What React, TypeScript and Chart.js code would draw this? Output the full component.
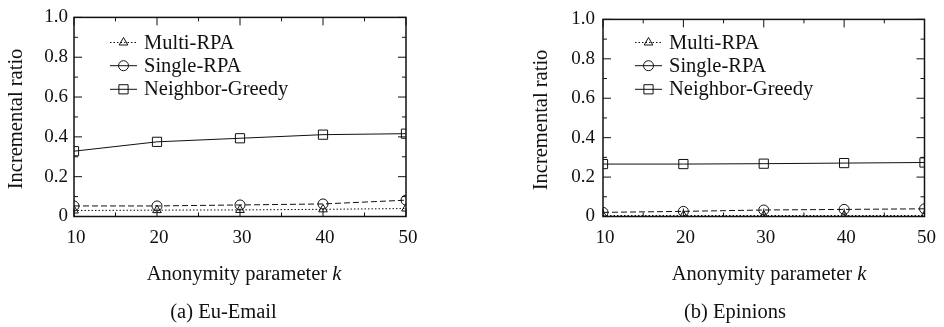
import React, { useEffect, useRef } from 'react';
import { Chart, registerables } from 'chart.js';

Chart.register(...registerables);

// ---- data ----
const kValues = [10, 20, 30, 40, 50];
const seriesNames = ['Multi-RPA', 'Single-RPA', 'Neighbor-Greedy'];
const euMulti = [0.03, 0.032, 0.033, 0.036, 0.04];
const euSingle = [0.053, 0.053, 0.058, 0.063, 0.082];
const euGreedy = [0.328, 0.375, 0.393, 0.411, 0.416];
const epMulti = [0.005, 0.005, 0.005, 0.005, 0.005];
const epSingle = [0.021, 0.026, 0.033, 0.036, 0.039];
const epGreedy = [0.266, 0.266, 0.268, 0.271, 0.274];
const yMinorTicks = [0.1, 0.3, 0.5, 0.7, 0.9];
const xMinorTicks = [15, 25, 35, 45];
const yAxisTitle = 'Incremental ratio';
const xAxisTitle = 'Anonymity parameter ';
const xAxisVar = 'k';
const captions = ['(a) Eu-Email', '(b) Epinions'];

const SERIF = '"Liberation Serif", "Times New Roman", serif';
const INK = '#111';

const seriesStyles = [
  { dash: [1.5, 2], point: 'triangle', radius: 5 },
  { dash: [6, 3], point: 'circle', radius: 5 },
  { dash: [], point: 'rect', radius: 6.5 },
];

function drawMarker(ctx: CanvasRenderingContext2D, style: string, x: number, y: number, r: number) {
  ctx.beginPath();
  if (style === 'circle') {
    ctx.arc(x, y, r, 0, Math.PI * 2);
  } else if (style === 'rect') {
    const s = r * Math.SQRT1_2;
    ctx.rect(x - s, y - s, 2 * s, 2 * s);
  } else {
    let rad = 0;
    ctx.moveTo(x + Math.sin(rad) * r, y - Math.cos(rad) * r);
    rad += (2 * Math.PI) / 3;
    ctx.lineTo(x + Math.sin(rad) * r, y - Math.cos(rad) * r);
    rad += (2 * Math.PI) / 3;
    ctx.lineTo(x + Math.sin(rad) * r, y - Math.cos(rad) * r);
    ctx.closePath();
  }
  ctx.stroke();
}

const decorPlugin = {
  id: 'decor',
  afterDatasetsDraw(chart: any, _args: any, o: any) {
    const ctx: CanvasRenderingContext2D = chart.ctx;
    const { left, right, top, bottom } = chart.chartArea;
    const xs = chart.scales.x;
    const ys = chart.scales.y;
    ctx.save();
    ctx.strokeStyle = INK;
    ctx.fillStyle = INK;
    ctx.setLineDash([]);
    // frame
    ctx.lineWidth = 1.5;
    ctx.strokeRect(left, top, right - left, bottom - top);
    // inward ticks on all four sides
    ctx.lineWidth = 1;
    const xTick = (v: number, len: number) => {
      const px = xs.getPixelForValue(v);
      ctx.beginPath();
      ctx.moveTo(px, bottom);
      ctx.lineTo(px, bottom - len);
      ctx.moveTo(px, top);
      ctx.lineTo(px, top + len);
      ctx.stroke();
    };
    const yTick = (v: number, len: number) => {
      const py = ys.getPixelForValue(v);
      ctx.beginPath();
      ctx.moveTo(left, py);
      ctx.lineTo(left + len, py);
      ctx.moveTo(right, py);
      ctx.lineTo(right - len, py);
      ctx.stroke();
    };
    xs.ticks.forEach((t: any) => xTick(t.value, 8));
    xMinorTicks.forEach((v) => xTick(v, 4));
    ys.ticks.forEach((t: any) => yTick(t.value, 8));
    yMinorTicks.forEach((v) => yTick(v, 4));

    // legend
    ctx.font = `20.5px ${SERIF}`;
    ctx.textBaseline = 'alphabetic';
    ctx.textAlign = 'left';
    chart.data.datasets.forEach((ds: any, i: number) => {
      const st = seriesStyles[i];
      const cy = o.legendRows[i];
      ctx.lineWidth = 1;
      ctx.setLineDash(i === 0 ? [1.5, 2] : []);
      ctx.beginPath();
      ctx.moveTo(o.legendX, cy);
      ctx.lineTo(o.legendX + 27, cy);
      ctx.stroke();
      ctx.setLineDash([]);
      drawMarker(ctx, st.point, o.legendX + 13.5, cy, st.radius);
      ctx.fillText(ds.label, o.legendX + 34, cy + 6);
    });

    // y axis title
    ctx.save();
    ctx.translate(o.yTitleX, (top + bottom) / 2 + 2);
    ctx.rotate(-Math.PI / 2);
    ctx.textAlign = 'center';
    ctx.textBaseline = 'middle';
    ctx.fillText(yAxisTitle, 0, 0);
    ctx.restore();

    // x axis title with italic k
    ctx.font = `20.5px ${SERIF}`;
    const w1 = ctx.measureText(xAxisTitle).width;
    ctx.font = `italic 20.5px ${SERIF}`;
    const w2 = ctx.measureText(xAxisVar).width;
    const sx = o.xTitleCenter - (w1 + w2) / 2;
    ctx.textAlign = 'left';
    ctx.textBaseline = 'alphabetic';
    ctx.font = `20.5px ${SERIF}`;
    ctx.fillText(xAxisTitle, sx, 279.5);
    ctx.font = `italic 20.5px ${SERIF}`;
    ctx.fillText(xAxisVar, sx + w1, 279.5);

    // caption
    ctx.font = `20.5px ${SERIF}`;
    ctx.textAlign = 'center';
    ctx.fillText(o.caption, o.captionCenter, 317.5);
    ctx.restore();
  },
};

type Panel = {
  multi: number[];
  single: number[];
  greedy: number[];
  areaLeft: number;
  areaRight: number;
  tickPad: number;
  legendX: number;
  yTitleX: number;
  xTitleCenter: number;
  captionCenter: number;
  caption: string;
};

const W = 472;
const H = 327;
const AREA_TOP = 13;
const AREA_BOTTOM = 216.5;
const X_AXIS_H = 30;

function PanelChart({ p, offsetX }: { p: Panel; offsetX: number }) {
  const ref = useRef<HTMLCanvasElement>(null);
  useEffect(() => {
    if (!ref.current) return;
    const series = [p.multi, p.single, p.greedy];
    const chart = new Chart(ref.current, {
      type: 'line',
      data: {
        datasets: series.map((vals, i) => ({
          label: seriesNames[i],
          data: kValues.map((k, j) => ({ x: k, y: vals[j] })),
          borderColor: INK,
          borderWidth: 1,
          borderDash: seriesStyles[i].dash,
          pointStyle: seriesStyles[i].point as any,
          pointRadius: seriesStyles[i].radius,
          pointBorderWidth: 1,
          pointBorderColor: INK,
          pointBackgroundColor: 'rgba(0,0,0,0)',
          fill: false,
          tension: 0,
        })),
      },
      options: {
        animation: false,
        responsive: false,
        devicePixelRatio: 1,
        layout: {
          padding: {
            left: 0,
            top: AREA_TOP,
            right: W - p.areaRight,
            bottom: H - AREA_BOTTOM - X_AXIS_H,
          },
        },
        scales: {
          x: {
            type: 'linear',
            min: 10,
            max: 50,
            offset: false,
            grid: { display: false, drawTicks: false },
            border: { display: false },
            ticks: {
              stepSize: 10,
              color: INK,
              font: { family: SERIF, size: 19 },
              padding: 10,
              labelOffset: 2,
              maxRotation: 0,
              autoSkip: false,
            },
            afterFit: (s: any) => {
              s.height = X_AXIS_H;
            },
          },
          y: {
            type: 'linear',
            min: 0,
            max: 1,
            grid: { display: false, drawTicks: false },
            border: { display: false },
            ticks: {
              stepSize: 0.2,
              color: INK,
              font: { family: SERIF, size: 19 },
              padding: p.tickPad,
              callback: (v: any) => (Math.abs(v) < 1e-9 ? '0' : Number(v).toFixed(1)),
            },
            afterFit: (s: any) => {
              s.width = p.areaLeft;
            },
          },
        },
        plugins: {
          legend: { display: false },
          tooltip: { enabled: false },
          decor: {
            legendX: p.legendX,
            legendRows: [42.5, 65.7, 89.3],
            yTitleX: p.yTitleX,
            xTitleCenter: p.xTitleCenter,
            captionCenter: p.captionCenter,
            caption: p.caption,
          },
        } as any,
      },
      plugins: [decorPlugin],
    });
    return () => chart.destroy();
  }, [p]);
  return (
    <canvas
      ref={ref}
      width={W}
      height={H}
      style={{ position: 'absolute', left: offsetX, top: 0, width: W, height: H }}
    />
  );
}

const panels: Panel[] = [
  {
    multi: euMulti,
    single: euSingle,
    greedy: euGreedy,
    areaLeft: 74,
    areaRight: 406,
    tickPad: 6,
    legendX: 110,
    yTitleX: 17,
    xTitleCenter: 244,
    captionCenter: 223.5,
    caption: captions[0],
  },
  {
    multi: epMulti,
    single: epSingle,
    greedy: epGreedy,
    areaLeft: 131,
    areaRight: 458,
    tickPad: 8,
    legendX: 163,
    yTitleX: 70,
    xTitleCenter: 297,
    captionCenter: 263,
    caption: captions[1],
  },
];

export default function App() {
  return (
    <div style={{ position: 'absolute', left: 0, top: 0, width: 944, height: 327, background: '#fff', overflow: 'hidden' }}>
      <PanelChart p={panels[0]} offsetX={0} />
      <PanelChart p={panels[1]} offsetX={472} />
    </div>
  );
}
